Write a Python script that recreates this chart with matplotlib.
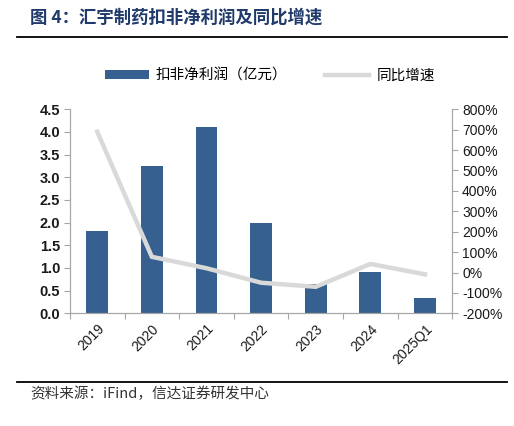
import matplotlib
matplotlib.use("Agg")
import matplotlib.pyplot as plt
from matplotlib.lines import Line2D
from matplotlib.patches import Patch
import numpy as np

plt.rcParams['font.family'] = ['Liberation Sans', 'Noto Sans CJK SC', 'DejaVu Sans']

# data
years = ['2019', '2020', '2021', '2022', '2023', '2024', '2025Q1']
profit = [1.82, 3.25, 4.11, 1.99, 0.64, 0.92, 0.34]      # 亿元
growth = [690, 77, 21, -50, -70, 42, -9]                  # %

bar_color = '#35608F'
line_color = '#D9D9D9'
axis_gray = '#A6A6A6'
cjk = ['Noto Sans CJK SC', 'DejaVu Sans']

fig = plt.figure(figsize=(5.14, 4.26), dpi=100)
ax = fig.add_axes([0.136, 0.2645, 0.744, 0.479])
ax2 = ax.twinx()

x = np.arange(len(years))
ax.bar(x, profit, width=0.4, color=bar_color, zorder=2)
ax2.plot(x, growth, color=line_color, lw=3.2, solid_joinstyle='miter', zorder=3)

ax.set_xlim(-0.5, len(years) - 0.5)
ax.set_ylim(0, 4.5)
ax.set_yticks(np.arange(0, 4.51, 0.5))
ax.set_yticklabels(['%.1f' % v for v in np.arange(0, 4.51, 0.5)],
                   fontsize=10.5, fontweight='bold', color='#1a1a1a')
ax2.set_ylim(-200, 800)
ax2.set_yticks(np.arange(-200, 801, 100))
ax2.set_yticklabels(['%d%%' % v for v in np.arange(-200, 801, 100)],
                    fontsize=10, color='#1a1a1a')

# ticks on category boundaries, labels at centres
ax.set_xticks(np.arange(-0.5, len(years), 1))
ax.set_xticklabels([])
ax.set_xticks(x, minor=True)
ax.set_xticklabels(years, minor=True, rotation=45, ha='right', va='top',
                   rotation_mode='anchor', fontsize=10, color='#1a1a1a')
ax.tick_params(axis='x', which='minor', length=0, pad=6)
ax.tick_params(axis='x', which='major', length=4, color=axis_gray, direction='out')
ax.tick_params(axis='y', length=4, color=axis_gray, pad=3)
ax2.tick_params(axis='y', length=4, color=axis_gray, pad=3)

for a in (ax, ax2):
    a.spines['top'].set_visible(False)
    for s in ('left', 'right', 'bottom'):
        a.spines[s].set_color(axis_gray)
        a.spines[s].set_linewidth(0.8)

# title and rules
fig.text(0.058, 0.958, '图 4：汇宇制药扣非净利润及同比增速', family=cjk,
         fontsize=12.5, fontweight='bold', color='#1F3A6B', va='center')
fig.add_artist(Line2D([0.033, 0.987], [0.912, 0.912], color='black', lw=1.3))
fig.add_artist(Line2D([0.033, 0.987], [0.103, 0.103], color='black', lw=1.3))
fig.text(0.058, 0.075, '资料来源：iFind，信达证券研发中心', family=cjk,
         fontsize=10.5, color='#333333', va='center', style='italic')

handles = [Patch(facecolor=bar_color), Line2D([0], [0], color=line_color, lw=3.2)]
fig.legend(handles, ['扣非净利润（亿元）', '同比增速'], loc='center',
           bbox_to_anchor=(0.525, 0.822), ncol=2, frameon=False, columnspacing=2.6,
           handlelength=3.0, handleheight=0.6, handletextpad=0.5,
           prop={'family': cjk, 'size': 10.5})

fig.savefig('out.png', dpi=100)
